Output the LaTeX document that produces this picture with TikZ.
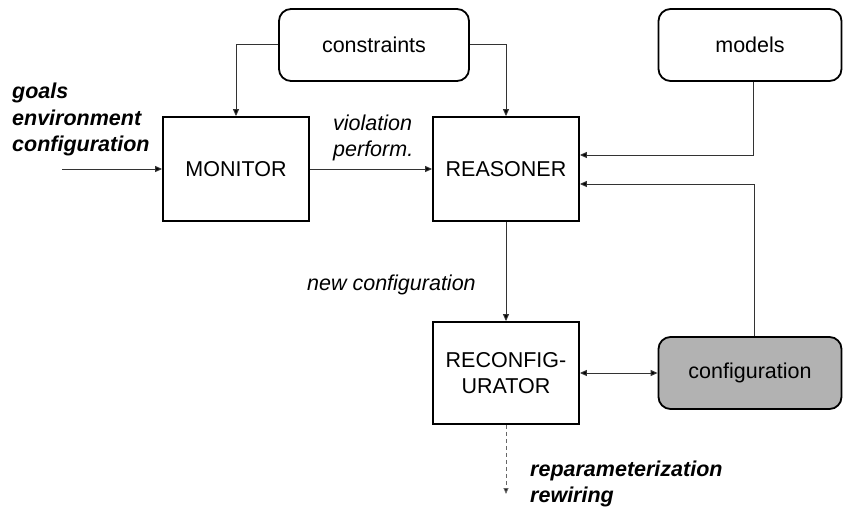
\documentclass[tikz,border=0pt]{standalone}
\usepackage{fontspec}
\setmainfont{Liberation Sans}
\usetikzlibrary{arrows.meta,calc}
\begin{document}
\begin{tikzpicture}[x=1pt,y=-1pt,
  every node/.style={font=\fontsize{21.5}{26}\selectfont},
  blockbox/.style={draw,line width=1.8pt,minimum width=146pt,minimum height=104pt,inner sep=0pt,align=center},
  roundbox/.style={draw,line width=1.8pt,rounded corners=12pt,minimum height=72pt,inner sep=0pt,align=center},
  arr/.style={line width=1pt,draw=black!80,-{Triangle[length=7pt,width=6pt,fill=black]}},
  darr/.style={line width=1pt,draw=black!80,{Triangle[length=7pt,width=6pt,fill=black]}-{Triangle[length=7pt,width=6pt,fill=black]}},
  dasharr/.style={line width=1pt,draw=black!60,dashed,dash pattern=on 4pt off 3pt,-{Triangle[length=6pt,width=5pt,fill=black]}},
  lbl/.style={inner sep=0pt,align=left,font=\fontsize{21.5}{26}\selectfont\itshape},
  blbl/.style={inner sep=0pt,align=left,font=\fontsize{21.5}{26}\selectfont\bfseries\itshape}]
\useasboundingbox (0,0) rectangle (843,508);
\node[roundbox,minimum width=190pt] (con) at (374,45) {constraints};
\node[roundbox,minimum width=183pt] (mod) at (750,45) {models};
\node[blockbox] (mon) at (236,169) {MONITOR};
\node[blockbox] (rea) at (506,169) {REASONER};
\node[blockbox,minimum height=102pt] (rec) at (506,373) {RECONFIG-\\URATOR};
\node[roundbox,minimum width=183pt,fill=black!30] (cfg) at (750,373) {configuration};
\coordinate (in) at (62,169);
\coordinate (out) at (506,494);
\node[blbl,anchor=base west] (goals) at (12,151) {goals\\environment\\configuration};
\node[lbl,anchor=base west] (viol) at (333,157) {violation\\perform.};
\node[lbl,anchor=base west] (newc) at (307,290) {new configuration};
\node[blbl,anchor=base west] (repa) at (530,502) {reparameterization\\rewiring};
\draw[arr] (in) -- (mon.west);
\draw[arr] (mon.east) -- (rea.west);
\draw[arr] (con.west) -| (mon.north);
\draw[arr] (con.east) -| (rea.north);
\draw[arr] ($(mod.south)+(3,0)$) |- ($(rea.east)+(0,-14)$);
\draw[arr] ($(cfg.north)+(4,0)$) |- ($(rea.east)+(0,15)$);
\draw[arr] (rea.south) -- (rec.north);
\draw[darr] (rec.east) -- (cfg.west);
\draw[dasharr] (rec.south) -- (out);
\end{tikzpicture}
\end{document}
